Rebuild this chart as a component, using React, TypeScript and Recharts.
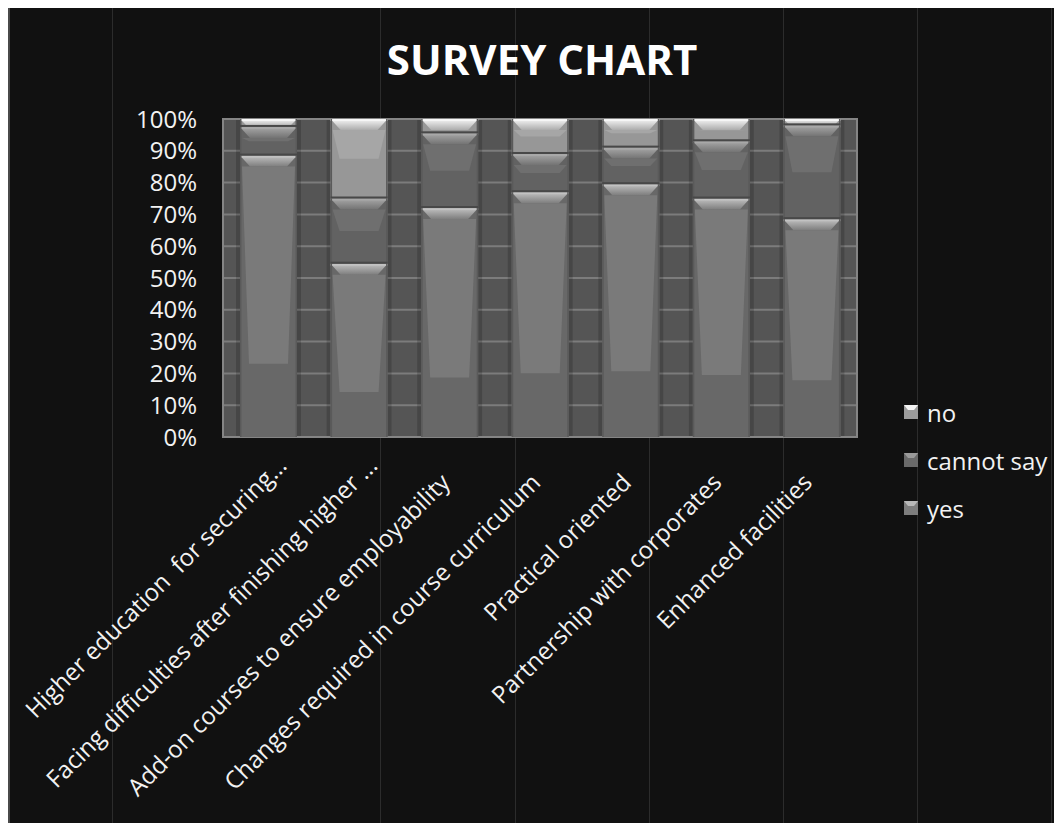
import React from 'react';
import { BarChart, Bar, XAxis, YAxis, CartesianGrid, Legend, ReferenceArea } from 'recharts';

const categories = [
  'Higher education  for securing...',
  'Facing difficulties after finishing higher ...',
  'Add-on courses to ensure employability',
  'Changes required in course curriculum',
  'Practical oriented',
  'Partnership with corporates',
  'Enhanced facilities',
];
const yesValues = [88.5, 54.5, 72, 77, 79.5, 75, 68.5];
const cannotSayValues = [9, 20.5, 23.5, 12, 11.5, 18, 29.5];
const noValues = [2.5, 25, 4.5, 11, 9, 7, 2];
const yTicks = [0, 10, 20, 30, 40, 50, 60, 70, 80, 90, 100];
const seriesNames = ['yes', 'cannot say', 'no'];
const legendOrder = ['no', 'cannot say', 'yes'];

const data = categories.map((name, i) => ({
  name,
  yes: yesValues[i],
  cannot: cannotSayValues[i],
  no: noValues[i],
}));

type Palette = { body: string; inner: string; bevelTop: string; bevelBottom: string };
const palettes: Record<string, Palette> = {
  yes: { body: '#686868', inner: '#7a7a7a', bevelTop: '#c2c2c2', bevelBottom: '#7e7e7e' },
  cannot: { body: '#626262', inner: '#6f6f6f', bevelTop: '#a8a8a8', bevelBottom: '#737373' },
  no: { body: '#979797', inner: '#a6a6a6', bevelTop: '#f6f6f6', bevelBottom: '#acacac' },
};

function makeShape(key: string, isBottom: boolean) {
  const c = palettes[key];
  return (props: any) => {
    const { x, y, width: w, height: h, index } = props;
    if (!h || h <= 0) return <g />;
    const bh = Math.min(11, h);
    const ins = Math.min(10, bh);
    const innerTop = y + bh;
    const innerBottom = y + h * (isBottom ? 0.74 : 0.5);
    const gid = `bev-${key}-${index}`;
    const bottomInset = Math.min(9, w * 0.16);
    return (
      <g>
        <defs>
          <linearGradient id={gid} x1="0" y1="0" x2="0" y2="1">
            <stop offset="0%" stopColor={c.bevelTop} />
            <stop offset="100%" stopColor={c.bevelBottom} />
          </linearGradient>
        </defs>
        <rect x={x} y={y} width={w} height={h} fill={c.body} />
        {innerBottom > innerTop && (
          <polygon
            points={`${x + 2},${innerTop} ${x + w - 2},${innerTop} ${x + w - bottomInset},${innerBottom} ${x + bottomInset},${innerBottom}`}
            fill={c.inner}
          />
        )}
        <polygon
          points={`${x},${y} ${x + w},${y} ${x + w - ins},${y + bh} ${x + ins},${y + bh}`}
          fill={`url(#${gid})`}
        />
        <rect x={x} y={y} width={w} height={Math.min(2, h)} fill={c.bevelTop} />
        <rect x={x} y={y} width={1.5} height={h} fill="#5a5a5a" />
        <rect x={x + w - 1.5} y={y} width={1.5} height={h} fill="#5a5a5a" />
        {!isBottom && <rect x={x} y={y + h - 2} width={w} height={2} fill="#484848" />}
      </g>
    );
  };
}

const WallShadow = (props: any) => {
  const { x, y, width: w, height: h } = props;
  return (
    <g>
      <rect x={x - 4} y={y} width={4} height={h} fill="#000" fillOpacity={0.17} />
      <rect x={x + w} y={y} width={4} height={h} fill="#000" fillOpacity={0.17} />
    </g>
  );
};

const CategoryTick = (props: any) => {
  const { x, y, payload } = props;
  const truncated = String(payload.value).endsWith('...');
  const ax = x + (truncated ? 20 : 2);
  const ay = y + (truncated ? 30 : 47);
  return (
    <text
      x={ax}
      y={ay}
      textAnchor="end"
      fill="#f2f2f2"
      fontSize={24}
      style={{ whiteSpace: 'pre' }}
      transform={`rotate(-45, ${ax}, ${ay})`}
    >
      {payload.value}
    </text>
  );
};

const legendIconColors: Record<string, [string, string]> = {
  yes: ['#b8b8b8', '#7d7d7d'],
  'cannot say': ['#9a9a9a', '#6a6a6a'],
  no: ['#f4f4f4', '#9c9c9c'],
};

const renderLegend = (props: any) => {
  const items = [...(props.payload || [])].sort(
    (a: any, b: any) => legendOrder.indexOf(a.value) - legendOrder.indexOf(b.value)
  );
  return (
    <div>
      {items.map((item: any) => {
        const [top, bottom] = legendIconColors[item.value] || ['#aaa', '#777'];
        return (
          <div key={item.value} style={{ display: 'flex', alignItems: 'center', height: 48 }}>
            <svg width={14} height={14} style={{ flex: 'none' }}>
              <rect x={0} y={0} width={14} height={14} fill={bottom} />
              <polygon points="0,0 14,0 10,5 4,5" fill={top} />
            </svg>
            <span style={{ marginLeft: 9, fontSize: 24, color: '#f2f2f2', whiteSpace: 'nowrap' }}>
              {item.value}
            </span>
          </div>
        );
      })}
    </div>
  );
};

const bgLines = [102, 370, 505, 639, 773, 907, 1041];

export default function App() {
  return (
    <div
      style={{
        position: 'relative',
        width: 1054,
        height: 815,
        background: '#111111',
        borderLeft: '2px solid #4a4a4a',
        boxSizing: 'border-box',
        fontFamily: '"Open Sans", sans-serif',
        overflow: 'hidden',
      }}
    >
      {bgLines.map((lx) => (
        <div
          key={lx}
          style={{ position: 'absolute', left: lx, top: 0, width: 1, height: 815, background: '#2c2c2c' }}
        />
      ))}
      <div
        style={{
          position: 'absolute',
          left: 0,
          top: 30,
          width: 1064,
          textAlign: 'center',
          fontSize: 42,
          lineHeight: '42px',
          fontWeight: 700,
          color: '#ffffff',
        }}
      >
        SURVEY CHART
      </div>
      <div style={{ position: 'absolute', left: -2, top: 0 }}>
        <BarChart
          width={1054}
          height={815}
          data={data}
          margin={{ top: 111, right: 205, bottom: 356, left: 0 }}
          barSize={57}
        >
          <CartesianGrid
            vertical={false}
            stroke="#7c7c7c"
            strokeWidth={2}
            fill="#555555"
            fillOpacity={1}
          />
          <XAxis
            dataKey="name"
            interval={0}
            tickLine={false}
            axisLine={false}
            tickSize={0}
            tickMargin={0}
            height={30}
            tick={<CategoryTick />}
          />
          <YAxis
            width={215}
            domain={[0, 100]}
            ticks={yTicks}
            interval={0}
            tickFormatter={(v: number) => `${v}%`}
            tickLine={false}
            axisLine={false}
            tickSize={0}
            tickMargin={26}
            tick={{ fill: '#f2f2f2', fontSize: 24 }}
          />
          <Bar
            dataKey="yes"
            name={seriesNames[0]}
            stackId="s"
            fill="#888888"
            isAnimationActive={false}
            background={<WallShadow />}
            shape={makeShape('yes', true)}
          />
          <Bar
            dataKey="cannot"
            name={seriesNames[1]}
            stackId="s"
            fill="#777777"
            isAnimationActive={false}
            shape={makeShape('cannot', false)}
          />
          <Bar
            dataKey="no"
            name={seriesNames[2]}
            stackId="s"
            fill="#aaaaaa"
            isAnimationActive={false}
            shape={makeShape('no', false)}
          />
          <ReferenceArea y1={0} y2={100} fill="none" stroke="#858585" strokeWidth={2} ifOverflow="visible" />
          <Legend
            layout="horizontal"
            verticalAlign="middle"
            align="center"
            content={renderLegend}
            wrapperStyle={{ left: 896, top: 380, width: 160, height: 150 }}
          />
        </BarChart>
      </div>
    </div>
  );
}
